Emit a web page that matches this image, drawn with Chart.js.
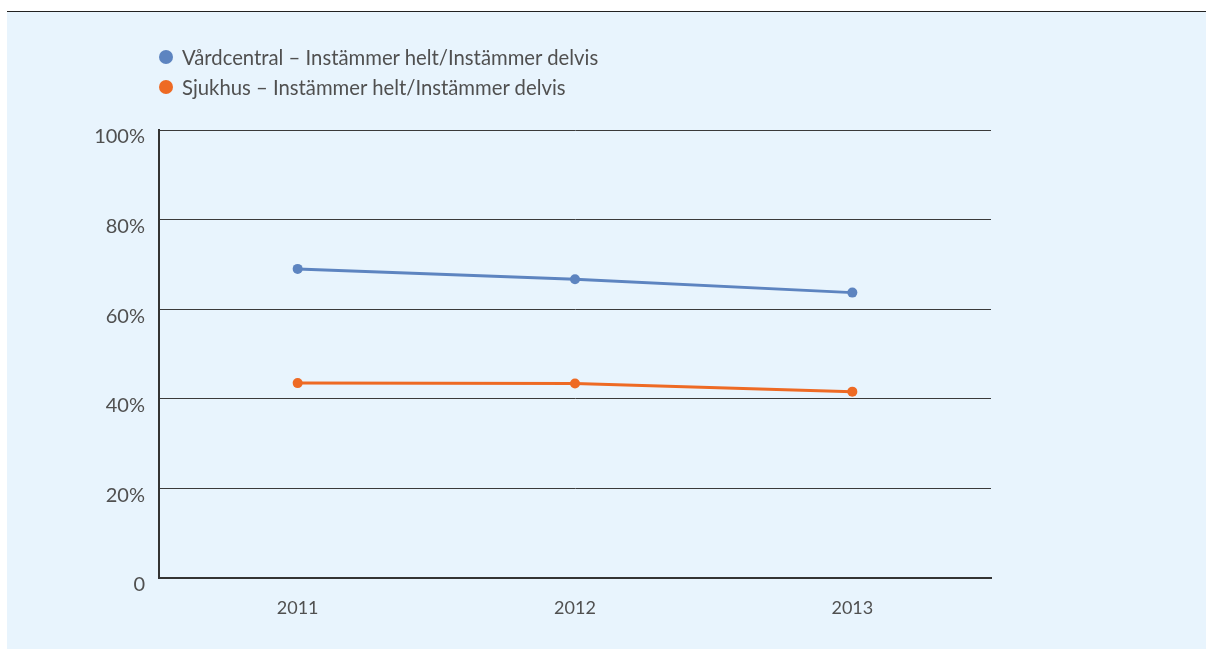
<!DOCTYPE html>
<html><head><meta charset="utf-8">
<script src="https://cdn.jsdelivr.net/npm/chart.js@4"></script>
<style>
html,body{margin:0;padding:0;background:#fff;width:1206px;height:649px;overflow:hidden;font-family:Lato,"Open Sans",sans-serif;}
#panel{position:absolute;left:7px;top:11px;width:1199px;height:638px;background:#e8f4fd;border-top:1px solid #222;}
#wrap{position:absolute;left:0;top:0;width:1206px;height:649px;}
#legend{position:absolute;left:159px;top:42px;font-size:20.3px;font-weight:400;color:#505050;line-height:30px;}
#legend div{display:flex;align-items:center;white-space:nowrap;}
#legend span.dot{display:inline-block;width:14px;height:14px;border-radius:50%;margin-right:9px;}
</style></head><body>
<div id="panel"></div>
<div id="wrap"><canvas id="c" width="1206" height="649"></canvas></div>
<div id="legend"></div>
<script>
const categories = ["2011","2012","2013"];
const seriesNames = ["Vårdcentral – Instämmer helt/Instämmer delvis","Sjukhus – Instämmer helt/Instämmer delvis"];
const vardcentral = [69.0, 66.7, 63.7];
const sjukhus = [43.5, 43.4, 41.6];
const yTicks = [0,20,40,60,80,100];
const colors = ["#5d84c0","#ee6a24"];

const datasets = [vardcentral, sjukhus].map((d,i)=>({
  label: seriesNames[i], data: d, borderColor: colors[i], backgroundColor: colors[i],
  borderWidth: 3, pointRadius: 5, pointHoverRadius: 5, pointBorderWidth: 0, tension: 0
}));

const leg = document.getElementById('legend');
seriesNames.forEach((n,i)=>{
  const d=document.createElement('div');
  d.innerHTML='<span class="dot" style="background:'+colors[i]+'"></span>'+n;
  leg.appendChild(d);
});

new Chart(document.getElementById('c'), {
  type:'line',
  data:{labels:categories, datasets},
  options:{
    responsive:false, animation:false, devicePixelRatio:1,
    layout:{padding:{top:130,right:215,left:0,bottom:0}},
    plugins:{legend:{display:false},tooltip:{enabled:false}},
    scales:{
      x:{offset:true,
        grid:{display:false,drawTicks:false},
        border:{display:true,color:'#333',width:2},
        ticks:{padding:19,color:'#505050',font:{family:'Lato',size:18,weight:400}},
        afterFit:(s)=>{s.height=71;}
      },
      y:{min:0,max:100,
        afterBuildTicks:(s)=>{s.ticks=yTicks.map(v=>({value:v}));},
        grid:{color:'#3a3a3a',lineWidth:1,drawTicks:false},
        border:{display:true,color:'#333',width:2},
        ticks:{padding:14,labelOffset:7,color:'#505050',font:{family:'Lato',size:20,weight:400},callback:(v)=>v===0?'0':v+'%'},
        afterFit:(s)=>{s.width=159;}
      }
    }
  }
});
</script>
</body></html>
